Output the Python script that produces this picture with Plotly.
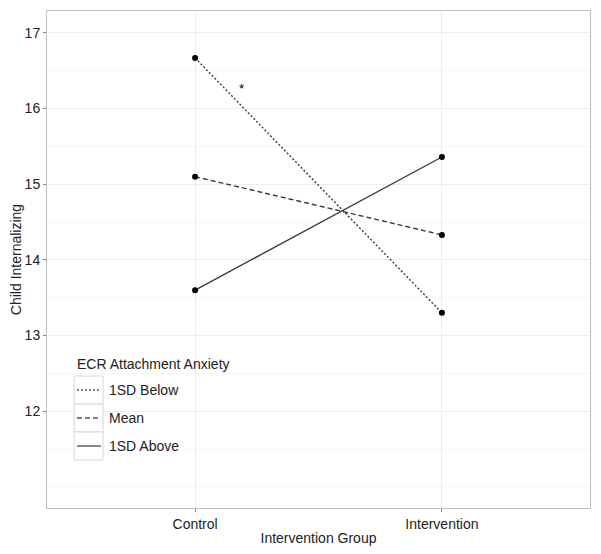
import plotly.graph_objects as go

groups = ["Control", "Intervention"]
series_names = ["1SD Below", "Mean", "1SD Above"]
below = [16.67, 13.30]
mean = [15.10, 14.33]
above = [13.60, 15.36]
y_ticks = [12, 13, 14, 15, 16, 17]
star_pos = (0.19, 16.27)
legend_title = "ECR Attachment Anxiety"

series = [below, mean, above]
dashes = ["2px,2px", "5px,3px", "solid"]

OFF = 8  # default page body margin
W, H = 601 - OFF, 554 - OFF
# plot area in page pixels: x 47..590, y 11..508
L, R, T, B = 47 - OFF, 11, 11 - OFF, 46
PX0, PX1, PY0, PY1 = 47, 590, 11, 508


def px_x(x):
    return (x - PX0) / (PX1 - PX0)


def px_y(y):
    return (PY1 - y) / (PY1 - PY0)


FONT = "Liberation Sans, Arial, Helvetica, sans-serif"

fig = go.Figure()
for name, vals, dash in zip(series_names, series, dashes):
    fig.add_trace(go.Scatter(
        x=groups, y=vals, mode="lines", name=name, showlegend=False,
        line=dict(color="#3a3a3a", width=1.4, dash=dash),
    ))
for vals in series:
    fig.add_trace(go.Scatter(
        x=groups, y=vals, mode="markers", showlegend=False, hoverinfo="skip",
        marker=dict(color="black", size=6),
    ))

fig.add_annotation(x=star_pos[0], y=star_pos[1], text="*", showarrow=False,
                   font=dict(size=13, color="black", family=FONT))

# manual ggplot-style legend
fig.add_annotation(xref="paper", yref="paper", x=px_x(75), y=px_y(364),
                   xanchor="left", yanchor="middle", text=legend_title,
                   showarrow=False, font=dict(size=14, color="#222", family=FONT))
row_top = 376
row_h = 28
for i, (name, dash) in enumerate(zip(series_names, dashes)):
    y0 = row_top + i * row_h
    fig.add_shape(type="rect", xref="paper", yref="paper",
                  x0=px_x(74), x1=px_x(103), y0=px_y(y0), y1=px_y(y0 + row_h),
                  line=dict(color="#d6d6d6", width=1), fillcolor="white", layer="above")
    fig.add_shape(type="line", xref="paper", yref="paper",
                  x0=px_x(77), x1=px_x(101), y0=px_y(y0 + row_h / 2), y1=px_y(y0 + row_h / 2),
                  line=dict(color="#555555", width=1.4, dash=dash), layer="above")
    fig.add_annotation(xref="paper", yref="paper", x=px_x(107), y=px_y(y0 + row_h / 2),
                       xanchor="left", yanchor="middle", text=name,
                       showarrow=False, font=dict(size=14, color="#222", family=FONT))

fig.update_layout(
    width=W, height=H,
    margin=dict(l=L, r=R, t=T, b=B),
    paper_bgcolor="white", plot_bgcolor="white",
    font=dict(family=FONT, size=14, color="#222222"),
    showlegend=False,
    xaxis=dict(
        type="category", range=[-0.6, 1.6], automargin=False,
        title=dict(text="Intervention Group", standoff=2, font=dict(size=14)),
        tickfont=dict(size=14),
        showgrid=True, gridcolor="#ededed", gridwidth=1,
        showline=True, linecolor="#bdbdbd", linewidth=1, mirror=True,
        ticks="outside", ticklen=3, tickcolor="#888888", zeroline=False,
    ),
    yaxis=dict(
        range=[10.72, 17.29], automargin=False,
        tickvals=y_ticks,
        title=dict(text="Child Internalizing", standoff=6, font=dict(size=14)),
        tickfont=dict(size=14),
        showgrid=True, gridcolor="#ededed", gridwidth=1,
        minor=dict(dtick=0.5, tick0=0, showgrid=True, gridcolor="#f6f6f6", ticks=""),
        showline=True, linecolor="#bdbdbd", linewidth=1, mirror=True,
        ticks="outside", ticklen=3, tickcolor="#888888", zeroline=False,
    ),
)

fig.write_html("out.html")
